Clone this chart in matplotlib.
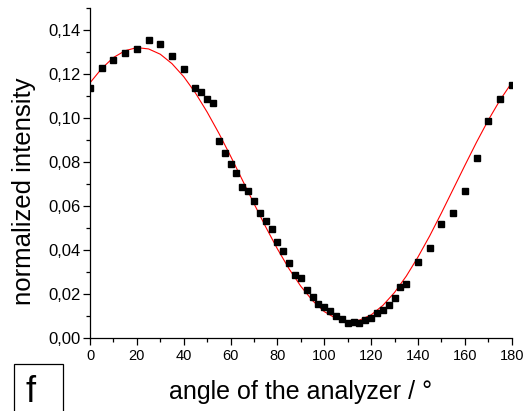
import matplotlib
matplotlib.use("Agg")
import matplotlib.pyplot as plt
from matplotlib.patches import Rectangle
from matplotlib.ticker import MultipleLocator, FuncFormatter

plt.rcParams['font.family'] = ['Liberation Sans', 'DejaVu Sans']

# measured points (angle in degrees, normalized intensity)
angles = [0, 5, 10, 15, 20, 25, 30, 35, 40, 45,
          47.5, 50, 52.5, 55, 57.5, 60, 62.5, 65, 67.5, 70,
          72.5, 75, 77.5, 80, 82.5, 85, 87.5, 90, 92.5, 95,
          97.5, 100, 102.5, 105, 107.5, 110, 112.5, 115, 117.5, 120,
          122.5, 125, 127.5, 130, 132.5, 135,
          140, 145, 150, 155, 160, 165, 170, 175, 180]
intensity = [0.1135, 0.1226, 0.1262, 0.1297, 0.1315, 0.1353, 0.1336, 0.1280, 0.1224, 0.1135,
             0.1120, 0.1085, 0.1067, 0.0897, 0.0839, 0.0789, 0.0749, 0.0688, 0.0670, 0.0624,
             0.0570, 0.0530, 0.0494, 0.0438, 0.0394, 0.0340, 0.0286, 0.0271, 0.0218, 0.0188,
             0.0153, 0.0139, 0.0123, 0.0100, 0.0085, 0.0070, 0.0074, 0.0070, 0.0082, 0.0089,
             0.0112, 0.0127, 0.0150, 0.0183, 0.0230, 0.0244,
             0.0346, 0.0410, 0.0517, 0.0570, 0.0666, 0.0820, 0.0985, 0.1085, 0.1151]

# red fit curve, every 5 degrees
fit_angles = list(range(0, 181, 5))
fit_values = [0.1160, 0.1225, 0.1275, 0.1306, 0.1320, 0.1314, 0.1290, 0.1247, 0.1188, 0.1114,
              0.1027, 0.0931, 0.0827, 0.0719, 0.0611, 0.0505, 0.0405, 0.0314, 0.0235, 0.0170,
              0.0120, 0.0089, 0.0075, 0.0081, 0.0105, 0.0148, 0.0207, 0.0281, 0.0368, 0.0464,
              0.0568, 0.0676, 0.0784, 0.0890, 0.0990, 0.1081, 0.1160]

fig = plt.figure(figsize=(5.31, 4.11), dpi=100)
ax = fig.add_axes([0.1695, 0.1776, 0.7941, 0.8029])

ax.plot(fit_angles, fit_values, color='red', lw=0.8, zorder=2)
ax.plot(angles, intensity, 's', color='black', ms=5, mec='black', zorder=3)

ax.set_xlim(0, 180)
ax.set_ylim(0, 0.15)
ax.spines['top'].set_visible(False)
ax.spines['right'].set_visible(False)
for s in ['left', 'bottom']:
    ax.spines[s].set_linewidth(0.9)

ax.xaxis.set_major_locator(MultipleLocator(20))
ax.xaxis.set_minor_locator(MultipleLocator(10))
ax.yaxis.set_major_locator(MultipleLocator(0.02))
ax.yaxis.set_minor_locator(MultipleLocator(0.01))
ax.yaxis.set_major_formatter(FuncFormatter(lambda v, p: ('%.2f' % v).replace('.', ',')))

ax.tick_params(which='major', direction='out', length=5, width=0.9)
ax.tick_params(which='minor', direction='out', length=3, width=0.9)
ax.tick_params(axis='x', pad=3, labelsize=10.5)
ax.tick_params(axis='y', pad=1.5, labelsize=12)

ax.text(0.5, -0.164, 'angle of the analyzer / \u00b0', transform=ax.transAxes,
        ha='center', va='center', fontsize=18)
ax.text(-0.157, 0.445, 'normalized intensity', transform=ax.transAxes,
        ha='center', va='center', rotation=90, fontsize=18.5)

# panel label box
fig.patches.append(Rectangle((14 / 531, -0.05), 48.7 / 531, 1 - 364.3 / 411 + 0.05,
                             transform=fig.transFigure, fill=False, ec='black', lw=0.9))
fig.text(26 / 531, 1 - 392 / 411, 'f', ha='left', va='center', fontsize=26)

fig.savefig('out.png', dpi=100)
